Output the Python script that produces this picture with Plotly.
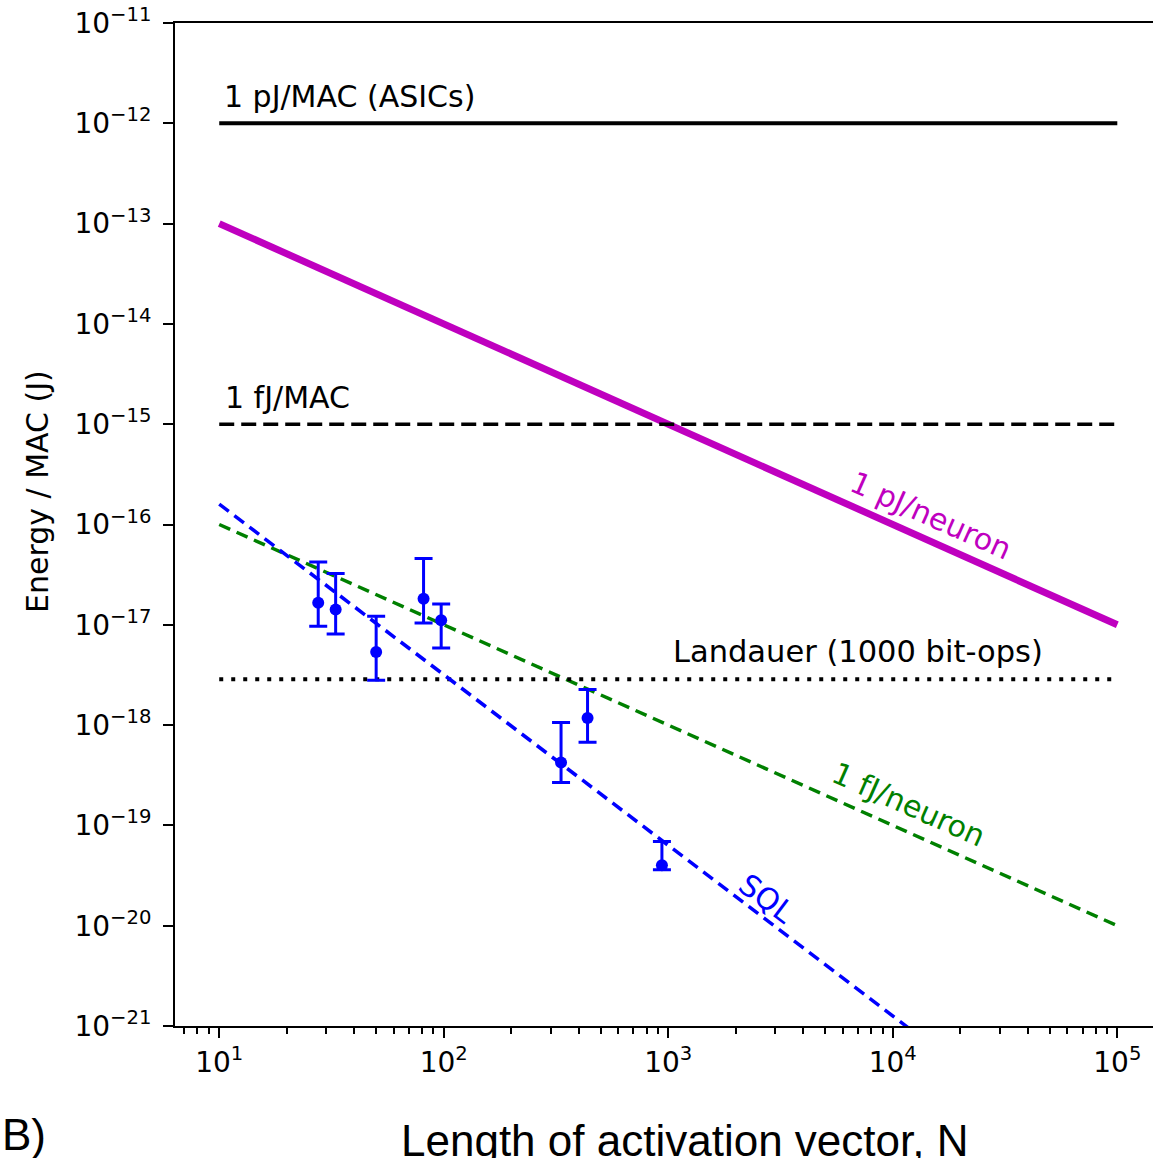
import plotly.graph_objects as go

# Reference lines (N endpoints, energy endpoints)
line_N = [10, 1e5]
asic_E = [1e-12, 1e-12]          # 1 pJ/MAC (ASICs)
fj_mac_E = [1e-15, 1e-15]        # 1 fJ/MAC
pj_neuron_E = [1e-13, 1e-17]     # 1 pJ/neuron
fj_neuron_E = [1e-16, 1e-20]     # 1 fJ/neuron
landauer_E = [2.87e-18, 2.87e-18]  # Landauer (1000 bit-ops)
sql_E = [1.6e-16, 2.5e-23]       # SQL

# Measured data with asymmetric error bars
data_N = [27.6, 33.0, 50.0, 81.3, 97.4, 333, 437, 937]
data_E = [1.66e-17, 1.42e-17, 5.36e-18, 1.82e-17, 1.11e-17, 4.23e-19, 1.18e-18, 4.0e-20]
data_hi = [4.23e-17, 3.24e-17, 1.22e-17, 4.57e-17, 1.61e-17, 1.06e-18, 2.26e-18, 6.9e-20]
data_lo = [9.66e-18, 8.09e-18, 2.80e-18, 1.04e-17, 5.87e-18, 2.67e-19, 6.73e-19, 3.62e-20]

# Tick exponents
x_exps = [1, 2, 3, 4, 5]
y_exps = [-21, -20, -19, -18, -17, -16, -15, -14, -13, -12, -11]
x_minor_exps = [0, 1, 2, 3, 4, 5]
minor_mult = [2, 3, 4, 5, 6, 7, 8, 9]

err_plus = [h - e for h, e in zip(data_hi, data_E)]
err_minus = [e - l for l, e in zip(data_lo, data_E)]

FONT = "DejaVu Sans"
ASZ = 30

def sup(e):
    return "10<sup>" + str(e).replace("-", "\u2212") + "</sup>"

fig = go.Figure()
fig.add_trace(go.Scatter(x=line_N, y=asic_E, mode="lines",
                         line=dict(color="black", width=4)))
fig.add_trace(go.Scatter(x=line_N, y=pj_neuron_E, mode="lines",
                         line=dict(color="#BF00BF", width=7)))
fig.add_trace(go.Scatter(x=line_N, y=fj_mac_E, mode="lines",
                         line=dict(color="black", width=3.5, dash="15px,7px")))
fig.add_trace(go.Scatter(x=line_N, y=fj_neuron_E, mode="lines",
                         line=dict(color="#008000", width=3.5, dash="12px,7px")))
fig.add_trace(go.Scatter(x=line_N, y=landauer_E, mode="lines",
                         line=dict(color="black", width=4, dash="4px,8px")))
fig.add_trace(go.Scatter(x=line_N, y=sql_E, mode="lines",
                         line=dict(color="#0000FF", width=3.5, dash="12px,7px")))
fig.add_trace(go.Scatter(x=data_N, y=data_E, mode="markers",
                         marker=dict(color="#0000FF", size=12),
                         error_y=dict(type="data", symmetric=False,
                                      array=err_plus, arrayminus=err_minus,
                                      color="#0000FF", thickness=3, width=9)))

def txt(x, y, s, color="black", angle=0, xanchor="left", size=ASZ):
    fig.add_annotation(x=x, y=y, xref="x", yref="y", text=s, showarrow=False,
                       xanchor=xanchor, yanchor="middle", textangle=angle,
                       font=dict(family=FONT, size=size, color=color))

txt(1.011, -11.73, "1 pJ/MAC (ASICs)")
txt(1.015, -14.73, "1 fJ/MAC")
txt(3.011, -17.265, "Landauer (1000 bit-ops)", size=30.5)
txt(4.170, -15.908, "1 pJ/neuron", color="#BF00BF", angle=24, xanchor="center")
txt(4.072, -18.789, "1 fJ/neuron", color="#008000", angle=24, xanchor="center")
txt(3.439, -19.727, "SQL", color="#0000FF", angle=37, xanchor="center")

W, H = 1153, 1158
pl, pt, pb = 175, 23, 132
pw, ph = W - pl, H - pt - pb

def px2paper(x, y):
    return (x - pl) / pw, 1 - (y - pt) / ph

yx, yy = px2paper(37, 492)
fig.add_annotation(x=yx, y=yy, xref="paper", yref="paper", text="Energy / MAC (J)",
                   showarrow=False, textangle=-90, xanchor="center", yanchor="middle",
                   font=dict(family=FONT, size=ASZ, color="black"))
bx, by = px2paper(0, 1134)
fig.add_annotation(x=bx, y=by, xref="paper", yref="paper", text="B)", showarrow=False,
                   xanchor="left", yanchor="middle",
                   font=dict(family="Liberation Sans Narrow, Liberation Sans", size=44, color="black"))
tx, ty = px2paper(684, 1140)
fig.add_annotation(x=tx, y=ty, xref="paper", yref="paper",
                   text="Length of activation vector, N", showarrow=False,
                   xanchor="center", yanchor="middle",
                   font=dict(family="Liberation Sans Narrow, Liberation Sans", size=44, color="black"))

fig.update_layout(
    width=W, height=H,
    margin=dict(l=pl, r=0, t=pt, b=pb),
    plot_bgcolor="white", paper_bgcolor="white",
    showlegend=False,
)

x_minor_vals = [m * 10.0 ** e for e in x_minor_exps for m in minor_mult]

fig.update_xaxes(type="log", range=[0.803, 5.159],
                 tickvals=[10.0 ** e for e in x_exps], ticktext=[sup(e) for e in x_exps],
                 showgrid=False, zeroline=False,
                 showline=True, linecolor="black", linewidth=2, mirror=True,
                 ticks="outside", ticklen=10, tickwidth=2, tickcolor="black",
                 minor=dict(tickmode="array", tickvals=x_minor_vals,
                            ticks="outside", ticklen=6, tickwidth=1.5, tickcolor="black",
                            showgrid=False),
                 tickfont=dict(family=FONT, size=28, color="black"))
fig.update_yaxes(type="log", range=[-21, -11],
                 tickvals=[10.0 ** e for e in y_exps], ticktext=[sup(e) for e in y_exps],
                 showgrid=False, zeroline=False,
                 showline=True, linecolor="black", linewidth=2, mirror=False,
                 ticks="outside", ticklen=10, tickwidth=2, tickcolor="black",
                 ticklabelstandoff=6,
                 tickfont=dict(family=FONT, size=28, color="black"))

fig.write_html("out.html")
